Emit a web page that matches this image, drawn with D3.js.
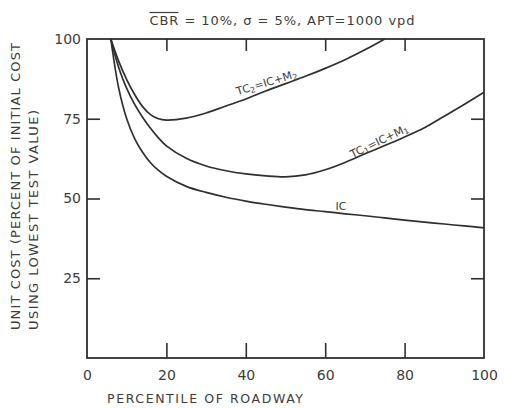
<!DOCTYPE html>
<html>
<head>
<meta charset="utf-8">
<script src="https://cdn.jsdelivr.net/npm/d3@7"></script>
<style>
  body { margin: 0; background: #fff; }
  text { font-family: "DejaVu Sans", sans-serif; fill: #3c3c3c; }
</style>
</head>
<body>
<div id="chart"></div>
<script>
// percentile of roadway (x) shared by all three curves
var percentile = [6, 8, 10, 12, 14, 16, 18, 20, 25, 30, 35, 40, 45, 50, 55, 60, 65, 70, 75, 80, 85, 90, 95, 100];

// unit cost, percent of initial cost using lowest test value
var costIC  = [100, 84.5, 75, 68.8, 64.5, 61.2, 58.8, 57, 53.8, 51.9, 50.4, 49.2, 48.2, 47.3, 46.5, 45.9, 45.2, 44.6, 43.9, 43.2, 42.6, 42, 41.4, 40.8];
var costTC1 = [100, 91, 84.5, 79.5, 75.5, 72, 69, 66.5, 62.6, 60.2, 58.7, 57.7, 57.1, 56.8, 57.4, 59, 61.3, 64, 66.6, 69.3, 72.2, 75.8, 79.5, 83.3];
var costTC2 = [100, 93, 87.3, 82.6, 78.8, 76.3, 75, 74.6, 75.2, 76.8, 79, 81.2, 83.7, 86, 88.3, 90.8, 93.5, 96.6, 100, null, null, null, null, null];

var xTicks = [0, 20, 40, 60, 80, 100];
var yTicks = [25, 50, 75, 100];
var innerXTicks = [20, 40, 60, 80];
var innerYTicks = [25, 50, 75];

var width = 505, height = 408;

var svg = d3.select("#chart").append("svg")
    .attr("width", width)
    .attr("height", height);

var x = d3.scaleLinear().domain([0, 100]).range([87, 484]);
var y = d3.scaleLinear().domain([0, 100]).range([358, 39]);

var ink = "#2f2f2f";

// frame
svg.append("rect")
    .attr("x", x(0)).attr("y", y(100))
    .attr("width", x(100) - x(0)).attr("height", y(0) - y(100))
    .attr("fill", "none")
    .attr("stroke", ink)
    .attr("stroke-width", 1.8);

// axes, ticks pointing inward
function styleAxis(g) {
  g.select(".domain").remove();
  g.selectAll(".tick line").attr("stroke", ink).attr("stroke-width", 1.6);
  g.selectAll(".tick text")
    .style("font-family", "'DejaVu Sans', sans-serif")
    .style("font-size", "14px")
    .attr("fill", "#3c3c3c");
}

svg.append("g")
    .attr("transform", "translate(0," + y(0) + ")")
    .call(d3.axisBottom(x).tickValues(xTicks).tickSize(0).tickPadding(12))
    .call(styleAxis);
svg.append("g")
    .attr("transform", "translate(0," + y(0) + ")")
    .call(d3.axisBottom(x).tickValues(innerXTicks).tickSize(-15).tickFormat(""))
    .call(styleAxis);
svg.append("g")
    .attr("transform", "translate(0," + y(100) + ")")
    .call(d3.axisTop(x).tickValues(innerXTicks).tickSize(-12).tickFormat(""))
    .call(styleAxis);
svg.append("g")
    .attr("transform", "translate(" + x(0) + ",0)")
    .call(d3.axisLeft(y).tickValues(yTicks).tickSize(0).tickPadding(6))
    .call(styleAxis);
svg.append("g")
    .attr("transform", "translate(" + x(0) + ",0)")
    .call(d3.axisLeft(y).tickValues(innerYTicks).tickSize(-13).tickFormat(""))
    .call(styleAxis);
svg.append("g")
    .attr("transform", "translate(" + x(100) + ",0)")
    .call(d3.axisRight(y).tickValues(innerYTicks).tickSize(-13).tickFormat(""))
    .call(styleAxis);

// curves
var line = d3.line()
    .defined(function(d) { return d[1] != null; })
    .x(function(d) { return x(d[0]); })
    .y(function(d) { return y(d[1]); })
    .curve(d3.curveCatmullRom.alpha(0.5));

[costIC, costTC1, costTC2].forEach(function(series) {
  svg.append("path")
      .datum(percentile.map(function(p, i) { return [p, series[i]]; }))
      .attr("d", line)
      .attr("fill", "none")
      .attr("stroke", ink)
      .attr("stroke-width", 1.7);
});

// curve labels
function curveLabel(px, py, angle, parts) {
  var t = svg.append("text")
      .attr("transform", "translate(" + px + "," + py + ") rotate(" + angle + ")")
      .attr("text-anchor", "middle")
      .style("font-size", "11px");
  parts.forEach(function(p) {
    var s = t.append("tspan").text(p[0]);
    if (p[1]) s.style("font-size", "8px").attr("baseline-shift", "-25%");
  });
}
curveLabel(x(45.5), y(84.6) - 2, -17, [["TC"], ["2", true], ["=IC+M"], ["2", true]]);
curveLabel(x(74), y(66.3) - 2, -26, [["TC"], ["1", true], ["=IC+M"], ["1", true]]);
curveLabel(x(64), y(45.3) - 3, 0, [["IC"]]);

// title
var title = svg.append("text")
    .attr("x", 282)
    .attr("y", 25)
    .attr("text-anchor", "middle")
    .attr("textLength", 265)
    .style("font-size", "13px")
    .text("CBR = 10%, σ = 5%, APT=1000 vpd");
var n = title.node();
var c0 = n.getExtentOfChar(0), c2 = n.getExtentOfChar(2);
svg.append("line")
    .attr("x1", c0.x).attr("x2", c2.x + c2.width)
    .attr("y1", 12.5).attr("y2", 12.5)
    .attr("stroke", "#3c3c3c")
    .attr("stroke-width", 1.2);

// axis titles
svg.append("text")
    .attr("x", 107)
    .attr("y", 403)
    .attr("textLength", 196)
    .style("font-size", "12.5px")
    .text("PERCENTILE OF ROADWAY");

svg.append("text")
    .attr("transform", "translate(19.5,330) rotate(-90)")
    .attr("textLength", 287)
    .style("font-size", "13px")
    .text("UNIT COST (PERCENT OF INITIAL COST");
svg.append("text")
    .attr("transform", "translate(38,330) rotate(-90)")
    .attr("textLength", 220)
    .style("font-size", "13px")
    .text("USING LOWEST TEST VALUE)");
</script>
</body>
</html>
